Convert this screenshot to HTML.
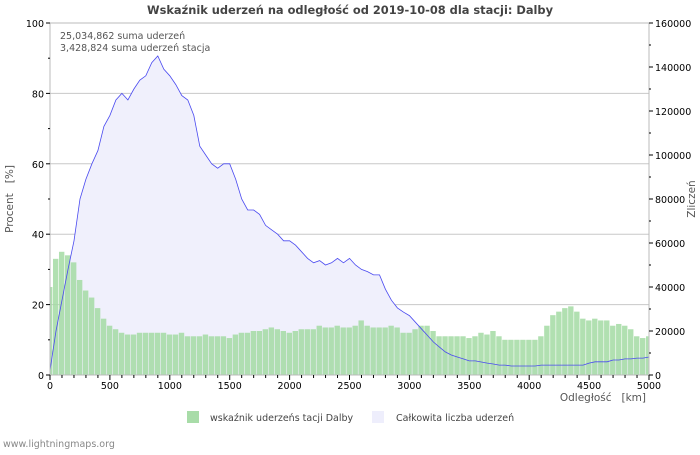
<!DOCTYPE html>
<html><head><meta charset="utf-8"><style>
body{margin:0;background:#fff;font-family:"Liberation Sans","DejaVu Sans",sans-serif}
svg text{font-family:"DejaVu Sans","Liberation Sans",sans-serif}
</style></head><body>
<svg id="c" width="700" height="450" viewBox="0 0 700 450" xmlns="http://www.w3.org/2000/svg">
<rect width="700" height="450" fill="#fff"/>
<text x="350" y="14" text-anchor="middle" font-size="11.4" font-weight="bold" fill="#444">Wskaźnik uderzeń na odległość od 2019-10-08 dla stacji: Dalby</text>
<g id="plot"></g>
<text x="60" y="39" font-size="9.5" fill="#555">25,034,862 suma uderzeń</text>
<text x="60" y="51" font-size="9.5" fill="#555">3,428,824 suma uderzeń stacja</text>
<text transform="translate(13,199) rotate(-90)" text-anchor="middle" font-size="10.5" fill="#555" xml:space="preserve">Procent   [%]</text>
<text transform="translate(695,199) rotate(-90)" text-anchor="middle" font-size="10.5" fill="#555">Zliczeń</text>
<text x="646" y="401" text-anchor="end" font-size="10.5" fill="#555" xml:space="preserve">Odległość   [km]</text>
<g><rect x="187" y="411" width="12" height="12" fill="#a8dca8"/><text x="210" y="421" font-size="9.5" fill="#444">wskaźnik uderzeńs tacji Dalby</text></g>
<g><rect x="372" y="411" width="12" height="12" fill="#eeeefc"/><text x="396" y="421" font-size="9.5" fill="#444">Całkowita liczba uderzeń</text></g>
<text x="3" y="447" font-size="9.5" fill="#888">www.lightningmaps.org</text>
</svg>
<script>
const distances=[];for(let i=0;i<=100;i++)distances.push(i*50);
const stationPercent=[25,33,35,34,32,27,24,22,19,16,14,13,12,11.5,11.5,12,12,12,12,12,11.5,11.5,12,11,11,11,11.5,11,11,11,10.5,11.5,12,12,12.5,12.5,13,13.5,13,12.5,12,12.5,13,13,13,14,13.5,13.5,14,13.5,13.5,14,15.5,14,13.5,13.5,13.5,14,13.5,12,12,13,14,14,12.5,11,11,11,11,11,10.5,11,12,11.5,12.5,11,10,10,10,10,10,10,11,14,17,18,19,19.5,18,16,15.5,16,15.5,15.5,14,14.5,14,13,11,10.5,11];
const totalCounts=[2000,20000,34000,48000,61000,80000,89000,96000,102000,113000,118000,125000,128000,125000,130000,134000,136000,142000,145000,139000,136000,132000,127000,125000,118000,104000,100000,96000,94000,96000,96000,89000,80000,75000,75000,73000,68000,66000,64000,61000,61000,59000,56000,53000,51000,52000,50000,51000,53000,51000,53000,50000,48000,47000,45500,45500,39000,34000,30500,28600,27000,24000,21000,18000,15000,12700,10500,9100,8200,7300,6400,6400,5900,5400,5000,4500,4500,4100,4100,4100,4100,4100,4500,4500,4500,4500,4500,4500,4500,4500,5400,6000,6000,6000,6800,6800,7300,7300,7700,7700,8200];
const leftTicks=[0,20,40,60,80,100];
const rightTicks=[0,20000,40000,60000,80000,100000,120000,140000,160000];
const xTicks=[0,500,1000,1500,2000,2500,3000,3500,4000,4500,5000];
const X0=50,X1=649,Y0=375,Y1=23;
const xs=d=>X0+(d/5000)*(X1-X0);
const yp=v=>Y0-(v/100)*(Y0-Y1);
const yc=v=>Y0-(v/160000)*(Y0-Y1);
const NS="http://www.w3.org/2000/svg";
const g=document.getElementById('plot');
function mk(t,a){const e=document.createElementNS(NS,t);for(const k in a)e.setAttribute(k,a[k]);g.appendChild(e);return e;}
leftTicks.forEach(v=>{if(v>0&&v<100){const l=mk('line',{x1:X0,x2:X1,y1:yp(v),y2:yp(v),stroke:'#c8c8c8'});

}});
let d='M'+xs(distances[0])+','+Y0;
distances.forEach((x,i)=>{d+=' L'+xs(x).toFixed(1)+','+yc(totalCounts[i]).toFixed(1);});
d+=' L'+xs(5000)+','+Y0+' Z';
const area=mk('path',{d:d,fill:'#f0f0fc'});


const bw=(X1-X0)/100;
stationPercent.forEach((v,i)=>{const cx=xs(distances[i]);const x=Math.max(X0,cx-bw/2),x2=Math.min(X1,cx+bw/2);
const r=mk('rect',{x:x,y:yp(v),width:Math.max(0,x2-x-0.6),height:Y0-yp(v),fill:'#a3daa3','fill-opacity':0.85});

});
let ld='';distances.forEach((x,i)=>{ld+=(i?' L':'M')+xs(x).toFixed(1)+','+yc(totalCounts[i]).toFixed(1);});
const line=mk('path',{d:ld,fill:'none',stroke:'#4a4af0','stroke-width':0.8});


const fr=mk('rect',{x:X0,y:Y1,width:X1-X0,height:Y0-Y1,fill:'none',stroke:'#bbb'});


leftTicks.forEach(v=>{mk('line',{x1:X0-4,x2:X0,y1:yp(v),y2:yp(v),stroke:'#000'});
const t=mk('text',{x:X0-6,y:yp(v)+4,'text-anchor':'end','font-size':9.5,fill:'#000'});t.textContent=v;

});
for(let v=10;v<100;v+=20)mk('line',{x1:X0-2,x2:X0,y1:yp(v),y2:yp(v),stroke:'#000'});
rightTicks.forEach(v=>{mk('line',{x1:X1,x2:X1+4,y1:yc(v),y2:yc(v),stroke:'#000'});
const t=mk('text',{x:X1+6,y:yc(v)+4,'font-size':9.5,fill:'#000'});t.textContent=v;

});
for(let v=10000;v<160000;v+=20000)mk('line',{x1:X1,x2:X1+2,y1:yc(v),y2:yc(v),stroke:'#000'});
for(let v=0;v<=5000;v+=100){const big=v%500===0;mk('line',{x1:xs(v),x2:xs(v),y1:Y0,y2:Y0+(big?5:3),stroke:'#000'});}
xTicks.forEach(v=>{const t=mk('text',{x:xs(v),y:Y0+14,'text-anchor':'middle','font-size':9.5,fill:'#000'});t.textContent=v;

});
</script>
</body></html>
